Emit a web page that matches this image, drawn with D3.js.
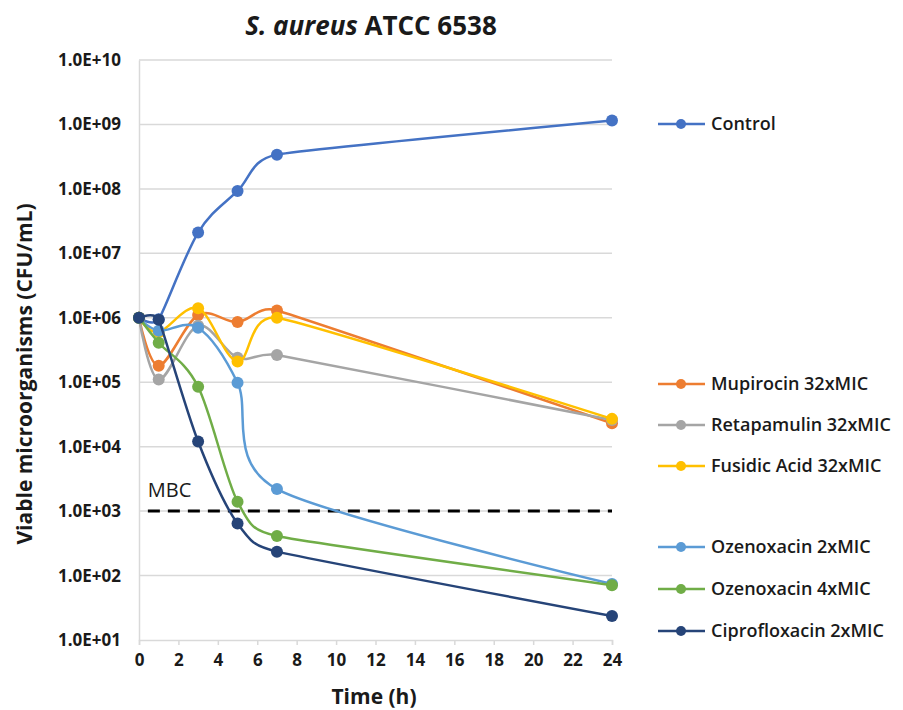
<!DOCTYPE html>
<html>
<head>
<meta charset="UTF-8">
<script src="https://d3js.org/d3.v7.min.js"></script>
<style>
  body { margin: 0; background: #fff; }
  svg text { font-family: "Open Sans", "DejaVu Sans", sans-serif; fill: #1a1a1a; }
  .tick-lbl { font-size: 17px; font-weight: bold; }
  .ax-title { font-size: 21px; font-weight: bold; }
  .leg { font-size: 18px; font-weight: 600; }
</style>
</head>
<body>
<svg width="903" height="710"></svg>
<script>
// time points (h)
const times = [0, 1, 3, 5, 7, 24];
const xTicks = [0, 2, 4, 6, 8, 10, 12, 14, 16, 18, 20, 22, 24];
const yTicks = [1e1, 1e2, 1e3, 1e4, 1e5, 1e6, 1e7, 1e8, 1e9, 1e10];

const seriesNames = ["Control", "Mupirocin 32xMIC", "Retapamulin 32xMIC", "Fusidic Acid 32xMIC",
                     "Ozenoxacin 2xMIC", "Ozenoxacin 4xMIC", "Ciprofloxacin 2xMIC"];
const control     = [1.0e6, 9.5e5, 2.1e7, 9.3e7, 3.4e8, 1.15e9];
const mupirocin   = [1.0e6, 1.8e5, 1.1e6, 8.6e5, 1.3e6, 2.3e4];
const retapamulin = [1.0e6, 1.1e5, 7.5e5, 2.4e5, 2.65e5, 2.6e4];
const fusidic     = [1.0e6, 6.0e5, 1.4e6, 2.1e5, 1.0e6, 2.7e4];
const ozen2       = [1.0e6, 6.3e5, 7.0e5, 9.8e4, 2.2e3, 7.4e1];
const ozen4       = [1.0e6, 4.1e5, 8.5e4, 1.4e3, 4.1e2, 7.1e1];
const cipro       = [1.0e6, 9.3e5, 1.2e4, 6.4e2, 2.35e2, 2.35e1];
const mbc = 1e3;

const colors = ["#4472C4", "#ED7D31", "#A5A5A5", "#FFC000", "#5B9BD5", "#70AD47", "#264478"];
const allSeries = [control, mupirocin, retapamulin, fusidic, ozen2, ozen4, cipro];

// legend rows (vertical placement as in the original)
const legendY = [124, 384, 425, 466, 547, 589, 631];

const svg = d3.select("svg");
const x = d3.scaleLinear().domain([0, 24]).range([139, 612]);
const y = d3.scaleLog().domain([1e1, 1e10]).range([640, 60]);

// excel-like smoothed line: bezier tangents of 1/6, shortened on short segments
function smoothPath(pts) {
  const p = d3.path();
  const n = pts.length;
  const dist = (a, b) => Math.hypot(b[0] - a[0], b[1] - a[1]);
  const ctrl = pts.map((pt, i) => {
    if (i === 0 || i === n - 1) return [pt, pt];
    const a = pts[i - 1], b = pts[i + 1];
    const tx = b[0] - a[0], ty = b[1] - a[1];
    const d02 = Math.hypot(tx, ty), d01 = dist(a, pt), d12 = dist(pt, b);
    let f = 1 / 6;
    if (d02 * f > d01 / 2 || d02 * f > d12 / 2) f = Math.min(d01, d12) / (2 * d02);
    return [[pt[0] - tx * f, pt[1] - ty * f], [pt[0] + tx * f, pt[1] + ty * f]];
  });
  p.moveTo(pts[0][0], pts[0][1]);
  for (let i = 0; i < n - 1; i++) {
    const c1 = ctrl[i][1], c2 = ctrl[i + 1][0];
    p.bezierCurveTo(c1[0], c1[1], c2[0], c2[1], pts[i + 1][0], pts[i + 1][1]);
  }
  return p.toString();
}

// gridlines
svg.append("g").selectAll("line").data(yTicks.slice(1)).join("line")
  .attr("x1", 139).attr("x2", 612)
  .attr("y1", d => y(d)).attr("y2", d => y(d))
  .attr("stroke", "#d9d9d9").attr("stroke-width", 1.5);

// y axis
const yAxis = svg.append("g").attr("transform", "translate(139,0)")
  .call(d3.axisLeft(y).tickValues(yTicks).tickSize(0).tickPadding(18)
    .tickFormat(d => "1.0E+" + String(Math.round(Math.log10(d))).padStart(2, "0")));
yAxis.select(".domain").attr("stroke", "#d9d9d9").attr("stroke-width", 1.5);
yAxis.selectAll("text").attr("class", "tick-lbl");

// x axis
const xAxis = svg.append("g").attr("transform", "translate(0,640)")
  .call(d3.axisBottom(x).tickValues(xTicks).tickSize(5).tickPadding(9));
xAxis.select(".domain").attr("stroke", "#d9d9d9").attr("stroke-width", 1.5);
xAxis.selectAll("line").attr("stroke", "#d9d9d9").attr("stroke-width", 1.5);
xAxis.selectAll("text").attr("class", "tick-lbl");

// MBC line
svg.append("line")
  .attr("x1", x(0.45)).attr("x2", x(24)).attr("y1", y(mbc)).attr("y2", y(mbc))
  .attr("stroke", "#000").attr("stroke-width", 3).attr("stroke-dasharray", "12,8");
svg.append("text").attr("x", x(0.45)).attr("y", y(mbc) - 14)
  .attr("font-size", 20).text("MBC");

// series
allSeries.forEach((vals, k) => {
  const g = svg.append("g");
  const pts = vals.map((v, i) => [x(times[i]), y(v)]);
  g.append("path").attr("d", smoothPath(pts))
    .attr("fill", "none").attr("stroke", colors[k]).attr("stroke-width", 2.5);
  g.selectAll("circle").data(vals).join("circle")
    .attr("cx", (d, i) => x(times[i])).attr("cy", d => y(d)).attr("r", 6)
    .attr("fill", colors[k]);
});

// legend
seriesNames.forEach((name, k) => {
  const g = svg.append("g").attr("transform", `translate(0,${legendY[k]})`);
  g.append("line").attr("x1", 658).attr("x2", 705).attr("stroke", colors[k]).attr("stroke-width", 2.5);
  g.append("circle").attr("cx", 681).attr("r", 5).attr("fill", colors[k]);
  g.append("text").attr("class", "leg").attr("x", 711).attr("dy", "0.35em").text(name);
});

// titles
const t = svg.append("text").attr("x", 371).attr("y", 35).attr("text-anchor", "middle")
  .attr("font-size", 26).attr("font-weight", "bold");
t.append("tspan").attr("font-style", "italic").text("S. aureus");
t.append("tspan").text(" ATCC 6538");

svg.append("text").attr("class", "ax-title").attr("x", 374).attr("y", 704)
  .attr("text-anchor", "middle").text("Time (h)");
svg.append("text").attr("class", "ax-title")
  .attr("transform", "translate(32,374) rotate(-90)")
  .attr("text-anchor", "middle").text("Viable microorganisms (CFU/mL)");
</script>
</body>
</html>
